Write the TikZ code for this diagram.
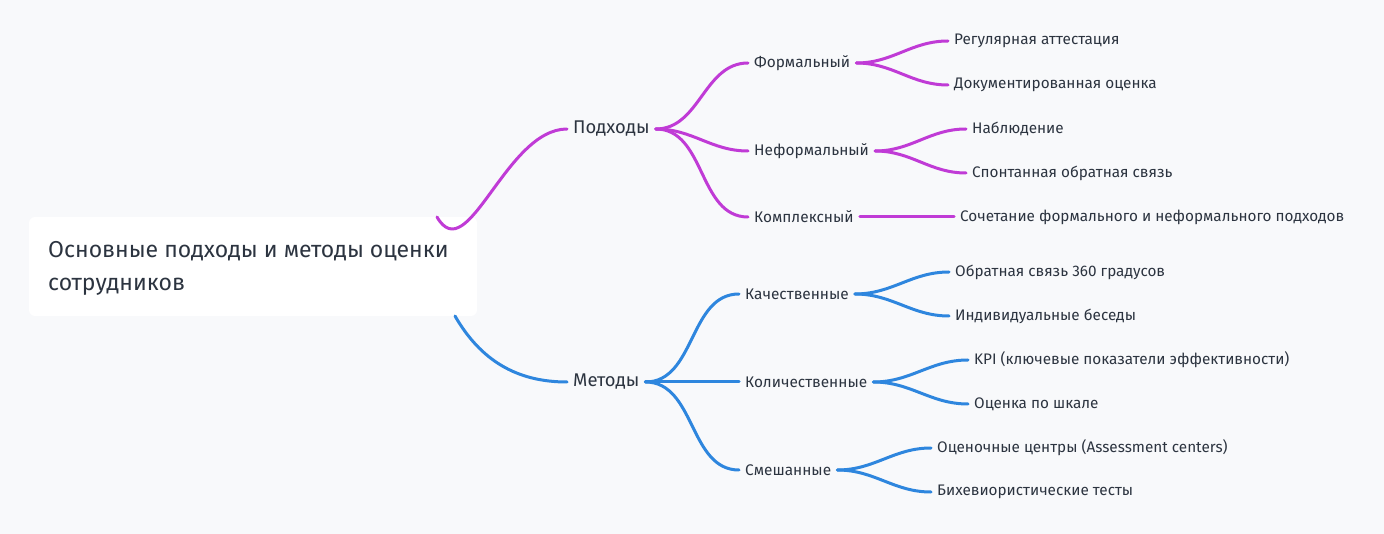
\documentclass[tikz,border=0pt]{standalone}
\usepackage{fontspec}
\setmainfont{Fira Sans}
\usetikzlibrary{positioning,calc}
\definecolor{bgcol}{HTML}{F8F9FB}
\definecolor{txtcol}{HTML}{2C3440}
\definecolor{apcol}{HTML}{C03BD6}
\definecolor{mecol}{HTML}{2E86DE}
\tikzset{
  every node/.style={text=txtcol, inner ysep=2pt},
  leaf/.style={anchor=west, inner xsep=6pt, font=\fontsize{15.3}{18}\selectfont},
  mid/.style={anchor=west, inner xsep=6pt, font=\fontsize{15.4}{18}\selectfont},
  top/.style={anchor=west, inner xsep=6pt, font=\fontsize{18.4}{21}\selectfont},
  link/.style={line width=3pt, line cap=round},
}
\newcommand{\curve}[3]{\draw[link,#1] (#2) to[out=0,in=180] (#3);}
\begin{document}
\begin{tikzpicture}[x=1pt,y=-1pt]
  \fill[bgcol] (0,0) rectangle (1384,534);
  \useasboundingbox (0,0) rectangle (1384,534);
  % root
  \fill[white,rounded corners=6pt] (29,217) rectangle (477,316);
  \node[anchor=north west, align=left, inner sep=0pt, font=\fontsize{23}{33}\selectfont] (root) at (48,241) {Основные подходы и методы оценки\\сотрудников};
  \coordinate (rt) at (437,217);
  \coordinate (rb) at (455,316);
  % level 1
  \node[top] (ap) at (567,129) {Подходы};
  \node[top] (me) at (567,382) {Методы};
  % level 2
  \node[mid] (fo) at (748,63) {Формальный};
  \node[mid] (nf) at (748,151) {Неформальный};
  \node[mid] (ko) at (748,217) {Комплексный};
  \node[mid] (ka) at (739,294) {Качественные};
  \node[mid] (kl) at (739,382) {Количественные};
  \node[mid] (sm) at (739,470) {Смешанные};
  % leaves
  \node[leaf] (fo1) at (948,41) {Регулярная аттестация};
  \node[leaf] (fo2) at (948,85) {Документированная оценка};
  \node[leaf] (nf1) at (966,129) {Наблюдение};
  \node[leaf] (nf2) at (966,173) {Спонтанная обратная связь};
  \node[leaf] (ko1) at (954,217) {Сочетание формального и неформального подходов};
  \node[leaf] (ka1) at (949,272) {Обратная связь 360 градусов};
  \node[leaf] (ka2) at (949,316) {Индивидуальные беседы};
  \node[leaf] (kl1) at (968,360) {KPI (ключевые показатели эффективности)};
  \node[leaf] (kl2) at (968,404) {Оценка по шкале};
  \node[leaf] (sm1) at (931,448) {Оценочные центры (Assessment centers)};
  \node[leaf] (sm2) at (931,492) {Бихевиористические тесты};
  % connectors
  \draw[link,apcol] (rt) to[out=-60,in=180] (ap.west);
  \draw[link,mecol] (rb) to[out=-60,in=180] (me.west);
  \foreach \a/\b in {ap/fo,ap/nf,ap/ko,fo/fo1,fo/fo2,nf/nf1,nf/nf2,ko/ko1}
    {\curve{apcol}{\a.east}{\b.west}}
  \foreach \a/\b in {me/ka,me/kl,me/sm,ka/ka1,ka/ka2,kl/kl1,kl/kl2,sm/sm1,sm/sm2}
    {\curve{mecol}{\a.east}{\b.west}}
\end{tikzpicture}
\end{document}
